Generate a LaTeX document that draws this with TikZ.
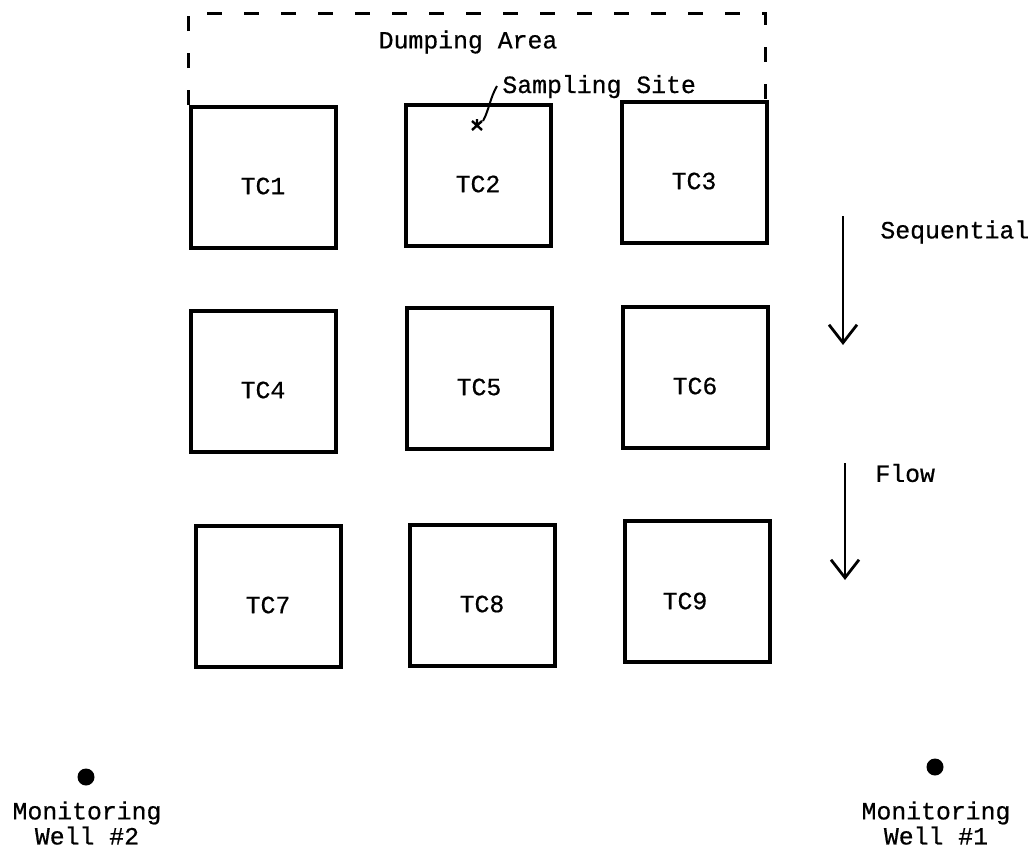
\documentclass[tikz,border=0pt]{standalone}
\usepackage{fontspec}
\newfontfamily\tw[FakeBold=0.6]{Liberation Mono}
\usetikzlibrary{arrows.meta}
\begin{document}
\begin{tikzpicture}[x=0.5pt,y=-0.5pt,
  every node/.style={font=\tw\fontsize{12.4}{11}\selectfont, inner sep=0pt},
  cell/.style={draw, line width=2pt, minimum width=72.5pt, minimum height=70.5pt},
  area/.style={line width=1.5pt, dash pattern=on 7.5pt off 11pt},
  flowarrow/.style={line width=1.4pt, -{Straight Barb[length=9pt,width=14pt]}},
  well/.style={circle, fill=black, minimum size=8.5pt},
  welltext/.style={align=center, anchor=north}]
\useasboundingbox (0,0) rectangle (1032,847);
% dumping area
\draw[area] (188,105) -- (188,13) -- (765,13) -- (765,100);
\node (dump) at (468,42) {Dumping Area};
% cells
\node[cell] (tc1) at (263,177) {};
\node[cell] (tc2) at (478,175) {};
\node[cell] (tc3) at (694,172) {};
\node[cell] (tc4) at (263,381) {};
\node[cell] (tc5) at (479,378) {};
\node[cell] (tc6) at (695,377) {};
\node[cell] (tc7) at (268,596) {};
\node[cell] (tc8) at (482,595) {};
\node[cell] (tc9) at (697,591) {};
\node at ([yshift=-4.5pt]tc1.center) {TC1};
\node at ([yshift=-4.5pt]tc2.center) {TC2};
\node at ([yshift=-4.5pt]tc3.center) {TC3};
\node at ([yshift=-4.5pt]tc4.center) {TC4};
\node at ([yshift=-4.5pt]tc5.center) {TC5};
\node at ([yshift=-4.5pt]tc6.center) {TC6};
\node at ([yshift=-4.5pt]tc7.center) {TC7};
\node at ([yshift=-4.5pt]tc8.center) {TC8};
\node at ([xshift=-6pt,yshift=-5pt]tc9.center) {TC9};
% sampling site
\node[anchor=base west] (samp) at (502,93) {Sampling Site};
\coordinate (site) at (477,125);
\coordinate (ls) at (497,86);
\draw[line width=1pt] (ls) .. controls (490,98) and (489,110) .. (483,121);
\draw[line width=1.2pt] ([shift={(-5,-4)}]site) -- ([shift={(5,5)}]site)
  ([shift={(-5,5)}]site) -- ([shift={(5,-4)}]site)
  ([shift={(0,-6)}]site) -- (site);
% flow arrows
\coordinate (a1s) at (843,216);
\coordinate (a1e) at (843,345);
\coordinate (a2s) at (845,463);
\coordinate (a2e) at (845,580);
\draw[flowarrow] (a1s) -- (a1e);
\draw[flowarrow] (a2s) -- (a2e);
\node[anchor=west] (seq) at (880,232) {Sequential};
\node[anchor=west] (flow) at (875,473) {Flow};
% wells
\node[well] (w2) at (86,777) {};
\node[well] (w1) at (935,767) {};
\node[welltext] (w2t) at (87,801) {Monitoring\\Well \#2};
\node[welltext] (w1t) at (936,801) {Monitoring\\Well \#1};
\end{tikzpicture}
\end{document}
